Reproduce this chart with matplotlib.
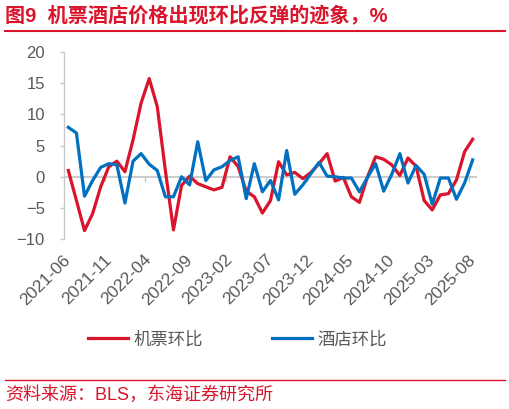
import pandas as pd
import matplotlib
matplotlib.use("Agg")
import matplotlib.pyplot as plt
from matplotlib.lines import Line2D

plt.rcParams['font.family'] = ['Liberation Sans', 'Noto Sans CJK SC', 'DejaVu Sans']

months = pd.period_range("2021-06", "2025-08", freq="M").strftime("%Y-%m").tolist()

airfare = [1.0, -3.8, -8.6, -5.9, -1.6, 1.6, 2.5, 0.8, 5.9, 11.8,
           15.7, 11.2, 1.0, -8.5, -1.4, 0.1, -1.1, -1.6, -2.1, -1.7,
           3.2, 1.6, -2.3, -3.2, -5.8, -3.8, 2.4, 0.3, 0.7, -0.3,
           0.7, 2.1, 3.7, -0.7, -0.1, -3.2, -4.1, 0.0, 3.2, 2.8,
           1.9, 0.2, 3.0, 1.7, -3.8, -5.3, -2.9, -2.7, -0.5, 4.0,
           6.0]
hotel = [7.9, 7.0, -3.1, -0.6, 1.5, 2.1, 1.9, -4.2, 2.5, 3.7,
         2.0, 1.0, -3.2, -3.2, 0.0, -1.3, 5.6, -0.6, 1.1, 1.6,
         2.6, 3.2, -3.5, 2.1, -2.4, -0.6, -3.7, 4.2, -2.8, -1.3,
         0.5, 2.3, 0.1, 0.0, -0.2, -0.2, -2.4, -0.1, 2.1, -2.3,
         0.4, 3.7, -1.0, 1.8, 0.4, -4.4, -0.2, -0.2, -3.6, -1.0,
         2.7]

RED = '#D9142B'
BLUE = '#0070C0'
GRAY = '#595959'
AXIS = '#C8C8C8'

fig = plt.figure(figsize=(5.1, 4.09), dpi=100)
ax = fig.add_axes([64.3 / 510, 1 - 239.3 / 409, (476.7 - 64.3) / 510, (239.3 - 51.7) / 409])

x = list(range(len(months)))
ax.axhline(0, color=AXIS, lw=1.3, zorder=1)
ax.plot(x, airfare, color=RED, lw=2.3, label='机票环比', zorder=3, solid_joinstyle='round')
ax.plot(x, hotel, color=BLUE, lw=2.3, label='酒店环比', zorder=4, solid_joinstyle='round')

ax.set_xlim(-0.5, len(months) - 0.5)
ax.set_ylim(-10, 20)
ax.set_yticks(range(-10, 21, 5))

for s in ['top', 'right', 'bottom']:
    ax.spines[s].set_visible(False)
ax.spines['left'].set_color(AXIS)
ax.spines['left'].set_linewidth(1.0)
ax.tick_params(axis='y', colors=AXIS, labelcolor=GRAY, labelsize=12, length=3, width=1.0, pad=11)

idx = list(range(0, len(months), 5))
ax.set_xticks(idx, [months[i] for i in idx])
ax.tick_params(axis='x', length=0, pad=13, labelsize=12.5, labelcolor=GRAY)
for lab in ax.get_xticklabels():
    lab.set_rotation(45)
    lab.set_ha('right')
    lab.set_va('center')
    lab.set_rotation_mode('anchor')

# category-boundary tick marks hanging from the zero line
ax.vlines([i - 0.5 for i in idx[1:]], 1 / 3 - 0.027, 1 / 3, transform=ax.get_xaxis_transform(),
          color=AXIS, lw=1.0, zorder=1)

fig.legend(loc='center left', bbox_to_anchor=(88 / 510, 1 - 339 / 409), ncol=2, frameon=False,
           fontsize=12.5, handlelength=2.3, handletextpad=0.3, columnspacing=4.0,
           borderpad=0, borderaxespad=0, labelcolor=GRAY)

fig.text(5 / 510, 1 - 16 / 409, '图9  机票酒店价格出现环比反弹的迹象，%', color=RED,
         fontsize=14.5, fontweight='bold', va='center', ha='left')
fig.add_artist(Line2D([5 / 510, 505 / 510], [1 - 30.5 / 409] * 2, color=RED, lw=1.5))
fig.add_artist(Line2D([5 / 510, 505 / 510], [1 - 380 / 409] * 2, color=RED, lw=1.0))
fig.text(5 / 510, 1 - 395 / 409, '资料来源：BLS，东海证券研究所', color=RED,
         fontsize=13, va='center', ha='left')

fig.savefig('out.png', dpi=100)
